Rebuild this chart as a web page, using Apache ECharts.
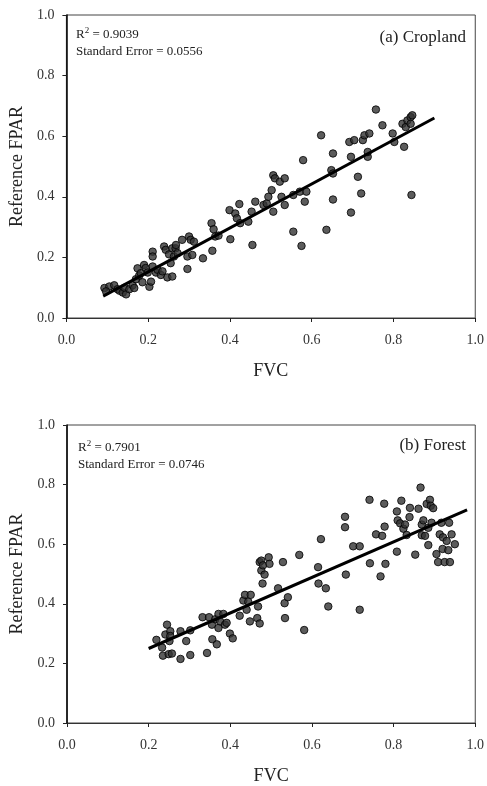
<!DOCTYPE html>
<html>
<head>
<meta charset="utf-8">
<script src="https://cdn.jsdelivr.net/npm/echarts@6/dist/echarts.min.js"></script>
<style>
  html, body { margin: 0; padding: 0; background: #fff; }
  #chart { width: 487px; height: 786px; }
</style>
</head>
<body>
<div id="chart"></div>
<script>
// 数据：FVC 与 Reference FPAR
const cropFVC = [0.093,0.105,0.117,0.097,0.125,0.130,0.138,0.142,0.146,0.154,0.162,0.166,0.170,0.174,0.178,0.182,0.186,0.190,0.194,0.199,0.203,0.207,0.211,0.211,0.211,0.219,0.223,0.231,0.235,0.239,0.243,0.247,0.251,0.255,0.259,0.259,0.263,0.267,0.268,0.272,0.283,0.296,0.296,0.300,0.304,0.308,0.312,0.334,0.355,0.357,0.360,0.364,0.372,0.399,0.401,0.413,0.417,0.423,0.425,0.445,0.453,0.455,0.462,0.482,0.490,0.494,0.502,0.506,0.506,0.510,0.522,0.526,0.534,0.534,0.555,0.555,0.571,0.575,0.579,0.583,0.587,0.623,0.636,0.648,0.652,0.652,0.652,0.692,0.696,0.696,0.704,0.713,0.721,0.725,0.729,0.737,0.741,0.737,0.757,0.773,0.798,0.802,0.822,0.826,0.830,0.834,0.842,0.846,0.842,0.844];
const cropFPAR = [0.099,0.104,0.108,0.088,0.095,0.090,0.084,0.100,0.078,0.095,0.108,0.099,0.128,0.164,0.140,0.148,0.118,0.175,0.165,0.150,0.103,0.120,0.219,0.203,0.170,0.150,0.159,0.142,0.154,0.236,0.225,0.134,0.210,0.181,0.137,0.230,0.203,0.230,0.241,0.214,0.258,0.203,0.162,0.269,0.258,0.208,0.252,0.197,0.313,0.222,0.293,0.269,0.272,0.356,0.260,0.345,0.329,0.376,0.313,0.318,0.351,0.241,0.384,0.373,0.378,0.400,0.422,0.351,0.471,0.461,0.450,0.400,0.461,0.373,0.285,0.406,0.417,0.238,0.521,0.384,0.417,0.603,0.291,0.488,0.543,0.477,0.391,0.581,0.532,0.348,0.587,0.466,0.411,0.587,0.603,0.532,0.609,0.548,0.688,0.636,0.609,0.581,0.641,0.565,0.630,0.652,0.663,0.669,0.641,0.406];
const cropFitX = [0.09, 0.90];
const cropFitY = [0.072, 0.660];

const forestFVC = [0.219,0.233,0.235,0.241,0.245,0.249,0.251,0.253,0.253,0.257,0.278,0.278,0.292,0.302,0.302,0.332,0.343,0.348,0.355,0.356,0.363,0.367,0.371,0.371,0.375,0.383,0.387,0.391,0.399,0.406,0.423,0.432,0.436,0.440,0.444,0.448,0.450,0.466,0.468,0.472,0.472,0.476,0.476,0.479,0.480,0.484,0.494,0.496,0.517,0.529,0.533,0.534,0.541,0.569,0.581,0.615,0.616,0.622,0.634,0.640,0.681,0.681,0.683,0.701,0.717,0.717,0.741,0.742,0.757,0.768,0.772,0.777,0.778,0.780,0.808,0.808,0.810,0.816,0.819,0.824,0.828,0.832,0.839,0.840,0.853,0.861,0.866,0.869,0.869,0.873,0.877,0.881,0.885,0.885,0.889,0.891,0.893,0.897,0.905,0.909,0.913,0.917,0.920,0.921,0.925,0.930,0.934,0.936,0.938,0.942,0.950];
const forestFPAR = [0.279,0.253,0.226,0.297,0.330,0.231,0.275,0.308,0.292,0.233,0.308,0.215,0.275,0.311,0.228,0.355,0.235,0.355,0.330,0.281,0.348,0.264,0.366,0.319,0.341,0.366,0.330,0.336,0.300,0.284,0.360,0.411,0.430,0.380,0.407,0.341,0.430,0.352,0.391,0.540,0.334,0.545,0.512,0.468,0.529,0.498,0.556,0.534,0.452,0.540,0.402,0.352,0.422,0.564,0.312,0.523,0.468,0.617,0.452,0.391,0.692,0.657,0.498,0.593,0.593,0.380,0.749,0.536,0.633,0.492,0.628,0.736,0.659,0.534,0.710,0.575,0.680,0.670,0.746,0.652,0.666,0.631,0.691,0.722,0.565,0.719,0.790,0.666,0.630,0.680,0.628,0.735,0.655,0.597,0.749,0.729,0.672,0.721,0.567,0.540,0.633,0.672,0.584,0.623,0.540,0.611,0.580,0.672,0.540,0.633,0.600];
const forestFitX = [0.20, 0.98];
const forestFitY = [0.250, 0.715];

const pairs = (xs, ys) => xs.map((x, i) => [x, ys[i]]);

const FONT = '"Liberation Serif", "DejaVu Serif", serif';

function makeX(gridIndex) {
  return {
    gridIndex: gridIndex,
    type: 'value',
    min: 0,
    max: 1,
    interval: 0.2,
    name: 'FVC',
    nameLocation: 'middle',
    nameGap: 44,
    nameTextStyle: { fontFamily: FONT, fontSize: 18, color: '#222' },
    axisLine: { show: true, onZero: false, lineStyle: { color: '#333', width: 1 } },
    axisTick: { show: true, inside: false, length: 4, lineStyle: { color: '#222' } },
    axisLabel: {
      margin: 15,
      fontFamily: FONT,
      fontSize: 14,
      color: '#333',
      formatter: v => v.toFixed(1)
    },
    splitLine: { show: false }
  };
}

function makeY(gridIndex) {
  return {
    gridIndex: gridIndex,
    type: 'value',
    min: 0,
    max: 1,
    interval: 0.2,
    name: 'Reference FPAR',
    nameLocation: 'middle',
    nameGap: 38,
    nameTextStyle: { fontFamily: FONT, fontSize: 18, color: '#222' },
    axisLine: { show: true, onZero: false, lineStyle: { color: '#000', width: 1.5 } },
    axisTick: { show: true, inside: false, length: 4, lineStyle: { color: '#222' } },
    axisLabel: {
      margin: 12,
      fontFamily: FONT,
      fontSize: 14,
      color: '#333',
      formatter: v => v.toFixed(1)
    },
    splitLine: { show: false }
  };
}

const pointStyle = {
  color: '#333',
  borderColor: '#000',
  borderWidth: 1
};

const myChart = echarts.init(document.getElementById('chart'));

const option = {
  backgroundColor: '#fff',
  animation: false,
  grid: [
    { left: 66, top: 15, width: 412, height: 303, show: true, borderColor: '#444', borderWidth: 1 },
    { left: 67, top: 425, width: 412, height: 302, show: true, borderColor: '#444', borderWidth: 1 }
  ],
  xAxis: [makeX(0), makeX(1)],
  yAxis: [makeY(0), makeY(1)],
  series: [
    {
      type: 'scatter',
      xAxisIndex: 0,
      yAxisIndex: 0,
      symbolSize: 7.5,
      itemStyle: pointStyle,
      data: pairs(cropFVC, cropFPAR)
    },
    {
      type: 'line',
      xAxisIndex: 0,
      yAxisIndex: 0,
      showSymbol: false,
      lineStyle: { color: '#000', width: 3 },
      data: pairs(cropFitX, cropFitY),
      z: 3
    },
    {
      type: 'scatter',
      xAxisIndex: 1,
      yAxisIndex: 1,
      symbolSize: 7.5,
      itemStyle: pointStyle,
      data: pairs(forestFVC, forestFPAR)
    },
    {
      type: 'line',
      xAxisIndex: 1,
      yAxisIndex: 1,
      showSymbol: false,
      lineStyle: { color: '#000', width: 3 },
      data: pairs(forestFitX, forestFitY),
      z: 3
    }
  ],
  graphic: [
    {
      type: 'text', left: 76, top: 26,
      style: {
        text: 'R{sup|2} = 0.9039\nStandard Error = 0.0556',
        font: '13px ' + FONT, fill: '#222', lineHeight: 17,
        rich: { sup: { fontSize: 9, verticalAlign: 'top', lineHeight: 17, fontFamily: FONT } }
      }
    },
    {
      type: 'text', right: 21, top: 29,
      style: { text: '(a) Cropland', font: '17px ' + FONT, fill: '#222' }
    },
    {
      type: 'text', left: 78, top: 439,
      style: {
        text: 'R{sup|2} = 0.7901\nStandard Error = 0.0746',
        font: '13px ' + FONT, fill: '#222', lineHeight: 17,
        rich: { sup: { fontSize: 9, verticalAlign: 'top', lineHeight: 17, fontFamily: FONT } }
      }
    },
    {
      type: 'text', right: 21, top: 437,
      style: { text: '(b) Forest', font: '17px ' + FONT, fill: '#222' }
    }
  ]
};

myChart.setOption(option);
</script>
</body>
</html>
